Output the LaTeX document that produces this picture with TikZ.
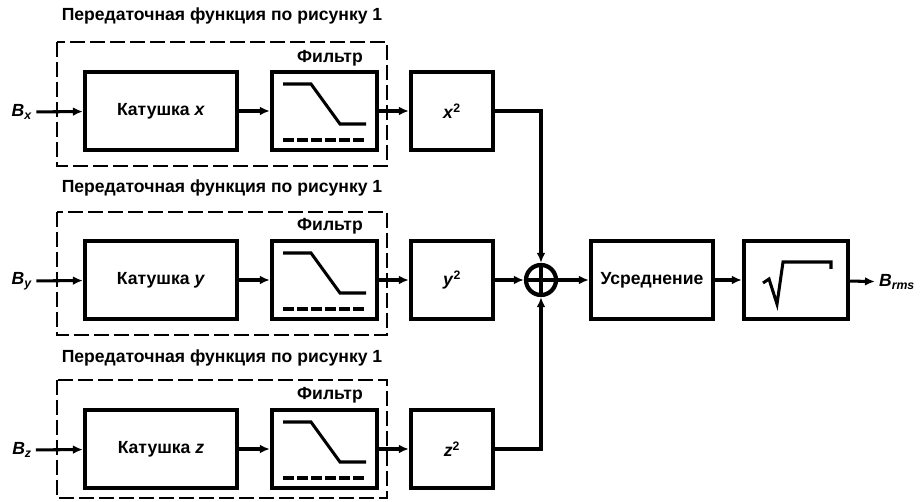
\documentclass[tikz,border=0pt]{standalone}
\usepackage{fontspec}
\setmainfont{Liberation Sans}
\usetikzlibrary{arrows.meta}

\begin{document}
\begin{tikzpicture}[x=0.3mm, y=-0.3mm,
        font=\fontsize{15}{17}\selectfont\bfseries,
        main/.style = {draw, line width=3.6pt, minimum height=23.4mm, inner sep=0pt},
        sq/.style = {main, minimum width=24.6mm},
        grp/.style = {draw, line width=2.3pt, dash pattern=on 4.5mm off 1.5mm},
        wire/.style = {line width=2.6pt, -{Latex[length=3mm, width=2.6mm]}},
        icon/.style = {line width=2.6pt}]

        \useasboundingbox (0,0) rectangle (922,502);

        % channel x
        \node (t1) at (222,16) {Передаточная функция по рисунку 1};
        \draw[grp] (57,42) rectangle (387,166);
        \node (bx) at (22,112) {\textit{B}\textsubscript{\textit{x}}};
        \node[main, minimum width=45.6mm] (kx) at (161,111) {Катушка \textit{x}};
        \node[main, minimum width=31.5mm] (fx) at (324.5,111) {};
        \node (l1) at (330,58) {Фильтр};
        \node[sq] (sx) at (452,111) {\textit{x}\textsuperscript{2}};

        % channel y
        \node (t2) at (222,188) {Передаточная функция по рисунку 1};
        \draw[grp] (57,212) rectangle (387,335);
        \node (by) at (22,281) {\textit{B}\textsubscript{\textit{y}}};
        \node[main, minimum width=45.6mm] (ky) at (161,280) {Катушка \textit{y}};
        \node[main, minimum width=31.5mm] (fy) at (324.5,280) {};
        \node (l2) at (330,226) {Фильтр};
        \node[sq] (sy) at (452,280) {\textit{y}\textsuperscript{2}};

        % channel z
        \node (t3) at (222,358) {Передаточная функция по рисунку 1};
        \draw[grp] (57,380) rectangle (387,498);
        \node (bz) at (22,450) {\textit{B}\textsubscript{\textit{z}}};
        \node[main, minimum width=45.6mm] (kz) at (161,449) {Катушка \textit{z}};
        \node[main, minimum width=31.5mm] (fz) at (324.5,449) {};
        \node (l3) at (330,395) {Фильтр};
        \node[sq] (sz) at (452,449) {\textit{z}\textsuperscript{2}};

        % filter curves
        \draw[icon] ([shift={(-41.5,-27)}]fx.center) -- ++(28,0) -- ++(29,40) -- ++(26,0);
        \draw[icon, dash pattern=on 9pt off 3pt] ([shift={(-41.5,29)}]fx.center) -- ++(83,0);
        \draw[icon] ([shift={(-41.5,-27)}]fy.center) -- ++(28,0) -- ++(29,40) -- ++(26,0);
        \draw[icon, dash pattern=on 9pt off 3pt] ([shift={(-41.5,29)}]fy.center) -- ++(83,0);
        \draw[icon] ([shift={(-41.5,-27)}]fz.center) -- ++(28,0) -- ++(29,40) -- ++(26,0);
        \draw[icon, dash pattern=on 9pt off 3pt] ([shift={(-41.5,29)}]fz.center) -- ++(83,0);

        % sum and output
        \node[draw, circle, line width=3.6pt, minimum size=9mm, inner sep=0pt] (sum) at (541,280) {};
        \draw[icon] (sum.north) -- (sum.south) (sum.west) -- (sum.east);
        \node[main, minimum width=36.6mm] (avg) at (652,280) {Усреднение};
        \node[main, minimum width=31.2mm] (root) at (796,280) {};
        \draw[icon] ([shift={(-33,3)}]root.center) -- ++(6,-4) -- ++(8,25) -- ++(6,-42) -- ++(48,0) -- ++(0,7);
        \node (out) at (897,282) {\textit{B}\textsubscript{\textit{rms}}};

        \draw[wire] (bx) -- (kx);
        \draw[wire] (kx) -- (fx);
        \draw[wire] (fx) -- (sx);
        \draw[wire] (by) -- (ky);
        \draw[wire] (ky) -- (fy);
        \draw[wire] (fy) -- (sy);
        \draw[wire] (bz) -- (kz);
        \draw[wire] (kz) -- (fz);
        \draw[wire] (fz) -- (sz);
        \draw[wire] (sx.east) -| (sum.north);
        \draw[wire] (sy) -- (sum);
        \draw[wire] (sz.east) -| (sum.south);
        \draw[wire] (sum) -- (avg);
        \draw[wire] (avg) -- (root);
        \draw[wire] (root) -- (out);

\end{tikzpicture}
\end{document}
